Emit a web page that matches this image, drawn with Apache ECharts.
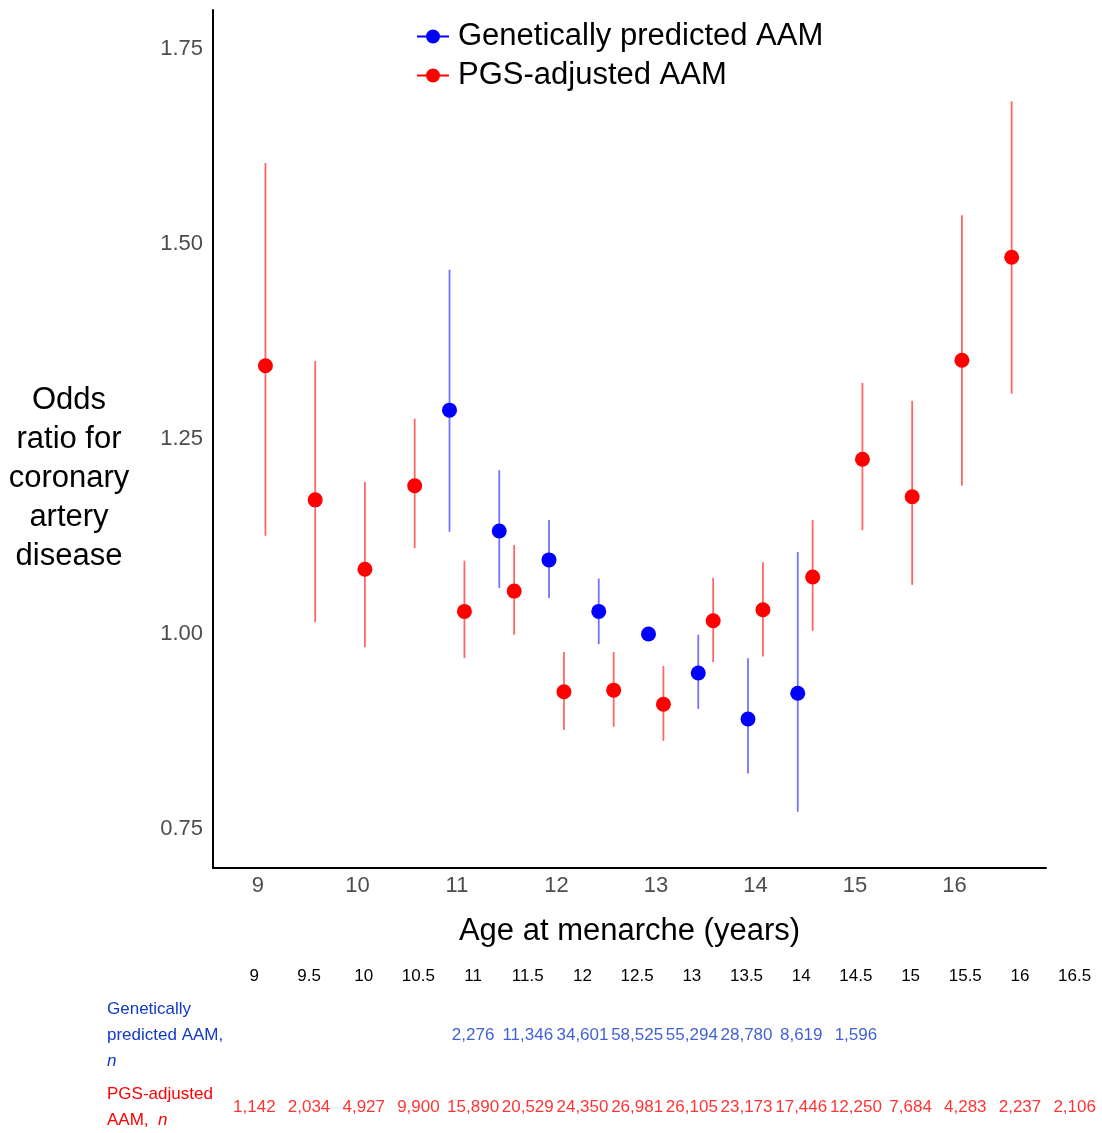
<!DOCTYPE html>
<html>
<head>
<meta charset="utf-8">
<script src="https://cdn.jsdelivr.net/npm/echarts@6/dist/echarts.min.js"></script>
<style>
  html, body { margin: 0; padding: 0; background: #fff; }
  #chart { width: 1102px; height: 1133px; }
</style>
</head>
<body>
<div id="chart"></div>
<script>
// age at menarche categories (years)
const ages = [9, 9.5, 10, 10.5, 11, 11.5, 12, 12.5, 13, 13.5, 14, 14.5, 15, 15.5, 16, 16.5]
const genAges = [11, 11.5, 12, 12.5, 13, 13.5, 14, 14.5]

// PGS-adjusted AAM: odds ratio and 95% CI
const pgsOR = [1.344, 1.172, 1.083, 1.190, 1.029, 1.055, 0.926, 0.928, 0.910, 1.017, 1.031, 1.073, 1.224, 1.176, 1.351, 1.483]
const pgsLo = [1.126, 1.015, 0.983, 1.110, 0.969, 0.999, 0.877, 0.881, 0.863, 0.964, 0.971, 1.004, 1.133, 1.063, 1.190, 1.308]
const pgsHi = [1.604, 1.350, 1.195, 1.276, 1.094, 1.114, 0.977, 0.977, 0.959, 1.072, 1.092, 1.146, 1.322, 1.299, 1.537, 1.683]

// genetically predicted AAM: odds ratio and 95% CI (13 = reference)
const genOR = [1.287, 1.132, 1.095, 1.029, 1.000, 0.950, 0.891, 0.924]
const genLo = [1.131, 1.059, 1.046, 0.987, 1.000, 0.904, 0.821, 0.772]
const genHi = [1.467, 1.210, 1.146, 1.071, 1.000, 0.999, 0.969, 1.105]

// sample sizes
const pgsN = [1142, 2034, 4927, 9900, 15890, 20529, 24350, 26981, 26105, 23173, 17446, 12250, 7684, 4283, 2237, 2106]
const genN = [2276, 11346, 34601, 58525, 55294, 28780, 8619, 1596]

const yTicks = [0.75, 1.0, 1.25, 1.5, 1.75]
const xTicks = [9, 10, 11, 12, 13, 14, 15, 16]

const BLUE = '#0000ff'
const RED = '#ff0000'
const BLUE_TXT = '#1238c8'
const FONT = "'Liberation Sans', Arial, sans-serif"
const TABLE_SIZE = 17
const dodge = 0.075

// legend icon: line with a dot
const pointRangeIcon = 'path://M0,6 L32,6 L32,8 L0,8 Z M9,7 A7,7 0 1 1 23,7 A7,7 0 1 1 9,7 Z'

const chart = echarts.init(document.getElementById('chart'))

function errorBars(name, xs, lo, hi, color, shift) {
  return {
    name: name,
    type: 'custom',
    xAxisIndex: 0,
    yAxisIndex: 0,
    z: 1,
    silent: true,
    data: xs.map((x, i) => [x + shift, lo[i], hi[i]]),
    renderItem: (params, api) => {
      const p1 = api.coord([api.value(0), api.value(1)])
      const p2 = api.coord([api.value(0), api.value(2)])
      return {
        type: 'line',
        shape: { x1: p1[0], y1: p1[1], x2: p2[0], y2: p2[1] },
        style: { stroke: color, lineWidth: 1.8 },
      }
    },
  }
}

function countRow(name, xs, rowKey, counts, color) {
  return {
    name: name,
    type: 'scatter',
    xAxisIndex: 1,
    yAxisIndex: 1,
    symbolSize: 1,
    silent: true,
    itemStyle: { color: 'rgba(255,255,255,0)' },
    label: {
      show: true,
      position: 'inside',
      fontSize: TABLE_SIZE,
      color: color,
      formatter: (p) => p.value[2].toLocaleString('en-US'),
    },
    data: xs.map((a, i) => [String(a), rowKey, counts[i]]),
  }
}

const option = {
  animation: false,
  textStyle: { fontFamily: FONT },
  legend: {
    orient: 'vertical',
    left: 412,
    top: 16,
    itemWidth: 32,
    itemHeight: 14,
    itemGap: 8,
    selectedMode: false,
    textStyle: { fontSize: 31, color: '#000', padding: [0, 0, 0, 4] },
    data: [
      { name: 'Genetically predicted AAM', icon: pointRangeIcon },
      { name: 'PGS-adjusted AAM', icon: pointRangeIcon },
    ],
  },
  grid: [
    { left: 213, top: 10, width: 833, height: 858 },
    { left: 227, right: 0, top: 1035, height: 72 },
  ],
  xAxis: [
    {
      type: 'value',
      gridIndex: 0,
      min: 8.548,
      max: 16.92,
      name: 'Age at menarche (years)',
      nameLocation: 'middle',
      nameGap: 63,
      nameTextStyle: { fontSize: 31, color: '#000', verticalAlign: 'middle' },
      axisLine: { show: true, onZero: false, lineStyle: { color: '#000', width: 2 } },
      axisTick: { show: false },
      splitLine: { show: false },
      axisLabel: { customValues: xTicks, fontSize: 22, color: '#4d4d4d', margin: 7 },
    },
    {
      type: 'category',
      gridIndex: 1,
      position: 'top',
      data: ages.map(String),
      axisLine: { show: false },
      axisTick: { show: false },
      axisLabel: {
        fontSize: TABLE_SIZE,
        color: '#000',
        margin: 59,
        verticalAlign: 'middle',
        interval: 0,
      },
    },
  ],
  yAxis: [
    {
      type: 'value',
      gridIndex: 0,
      min: 0.7,
      max: 1.8,
      // two leading blank lines push the block down beside the data
      name: '\n\nOdds\nratio for\ncoronary\nartery\ndisease',
      nameLocation: 'middle',
      nameRotate: 0,
      nameGap: 144,
      nameTextStyle: {
        fontSize: 31,
        color: '#000',
        align: 'center',
        verticalAlign: 'middle',
        lineHeight: 39,
      },
      axisLine: { show: true, onZero: false, lineStyle: { color: '#000', width: 2 } },
      axisTick: { show: false },
      splitLine: { show: false },
      axisLabel: {
        customValues: yTicks,
        formatter: (v) => v.toFixed(2),
        fontSize: 22,
        color: '#4d4d4d',
        margin: 10,
      },
    },
    {
      type: 'category',
      gridIndex: 1,
      data: ['gen', 'pgs'],
      inverse: true,
      boundaryGap: false,
      axisLine: { show: false },
      axisTick: { show: false },
      axisLabel: {
        align: 'left',
        margin: 120,
        formatter: (v) =>
          v === 'gen'
            ? '{b|Genetically}\n{b|predicted AAM,}\n{bi|n}'
            : '{r|PGS-adjusted}\n{r|AAM,  }{ri|n}',
        rich: {
          b: { color: BLUE_TXT, fontSize: 17, lineHeight: 26 },
          bi: { color: BLUE_TXT, fontSize: 17, lineHeight: 26, fontStyle: 'italic' },
          r: { color: RED, fontSize: 17, lineHeight: 26 },
          ri: { color: RED, fontSize: 17, lineHeight: 26, fontStyle: 'italic' },
        },
      },
    },
  ],
  series: [
    errorBars('gen-ci', genAges, genLo, genHi, 'rgba(0,0,255,0.55)', -dodge),
    errorBars('pgs-ci', ages, pgsLo, pgsHi, 'rgba(255,0,0,0.6)', dodge),
    {
      name: 'Genetically predicted AAM',
      type: 'scatter',
      xAxisIndex: 0,
      yAxisIndex: 0,
      z: 3,
      symbolSize: 15,
      itemStyle: { color: BLUE, opacity: 1 },
      data: genAges.map((a, i) => [a - dodge, genOR[i]]),
    },
    {
      name: 'PGS-adjusted AAM',
      type: 'scatter',
      xAxisIndex: 0,
      yAxisIndex: 0,
      z: 3,
      symbolSize: 15,
      itemStyle: { color: RED, opacity: 1 },
      data: ages.map((a, i) => [a + dodge, pgsOR[i]]),
    },
    // table rows of n
    countRow('gen-n', genAges, 'gen', genN, BLUE_TXT),
    countRow('pgs-n', ages, 'pgs', pgsN, RED),
  ],
}

chart.setOption(option)

window.addEventListener('resize', () => {
  chart.resize()
})
</script>
</body>
</html>
